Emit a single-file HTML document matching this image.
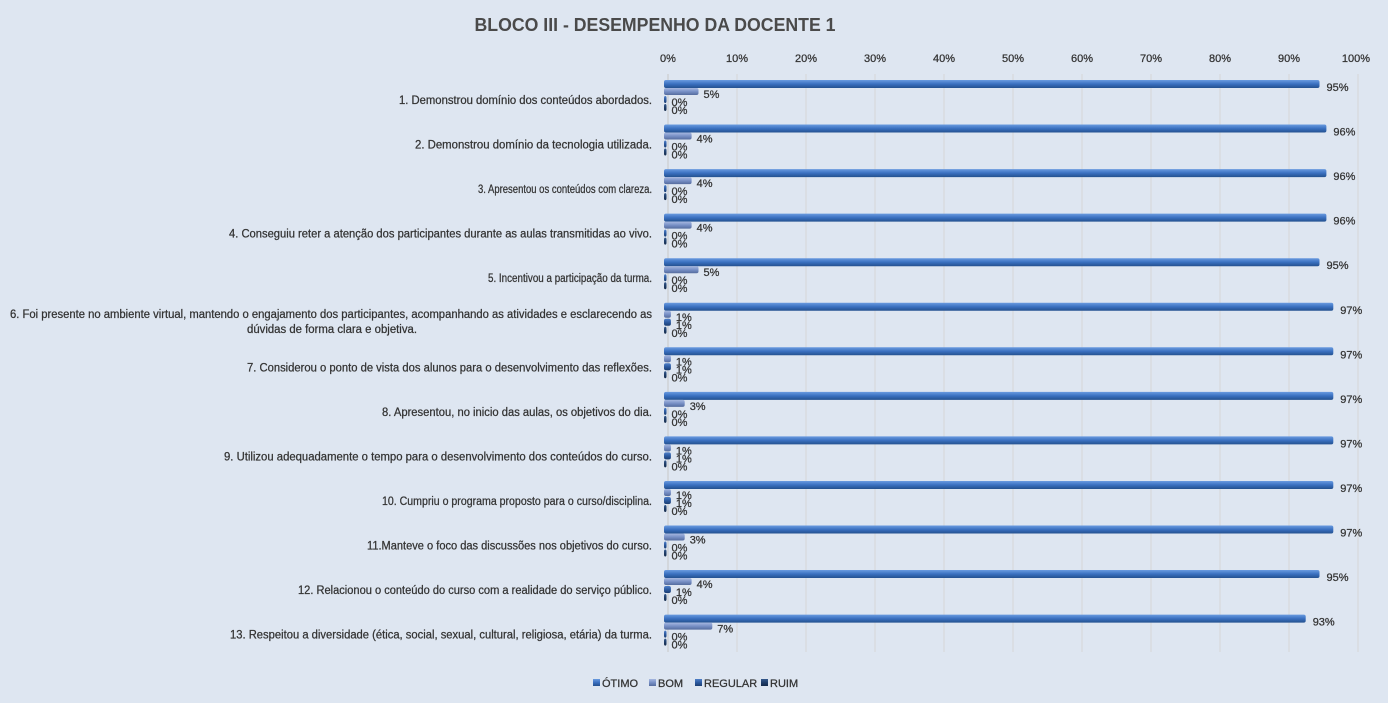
<!DOCTYPE html>
<html><head><meta charset="utf-8"><style>
html,body{margin:0;padding:0;background:#dee6f1;}
svg{display:block;font-family:"Liberation Sans Narrow","Liberation Sans",sans-serif;}
</style></head><body>
<svg width="1388" height="703" viewBox="0 0 1388 703" xmlns="http://www.w3.org/2000/svg">
<defs>
<linearGradient id="g1" x1="0" y1="0" x2="0" y2="1"><stop offset="0" stop-color="#6a9be0"/><stop offset="0.5" stop-color="#3a70c0"/><stop offset="1" stop-color="#24518f"/></linearGradient>
<linearGradient id="g2" x1="0" y1="0" x2="0" y2="1"><stop offset="0" stop-color="#a7b8e0"/><stop offset="0.5" stop-color="#7890c6"/><stop offset="1" stop-color="#556c9e"/></linearGradient>
<linearGradient id="g3" x1="0" y1="0" x2="0" y2="1"><stop offset="0" stop-color="#4f7fc8"/><stop offset="0.5" stop-color="#2c5aa0"/><stop offset="1" stop-color="#1c3e72"/></linearGradient>
<linearGradient id="g4" x1="0" y1="0" x2="0" y2="1"><stop offset="0" stop-color="#35598c"/><stop offset="0.5" stop-color="#1f3e6a"/><stop offset="1" stop-color="#142a4a"/></linearGradient>
</defs>
<rect width="1388" height="703" fill="#dee6f1"/>
<text x="655" y="31" text-anchor="middle" font-size="18" font-weight="bold" fill="#4a4a4a" font-family="Liberation Sans,sans-serif" textLength="361" lengthAdjust="spacingAndGlyphs">BLOCO III - DESEMPENHO  DA DOCENTE 1</text>
<g id="grid"></g>
<g id="bars"></g>
<g font-size="11" fill="#333" stroke="#333" stroke-width="0.25">
<rect x="593" y="679" width="7" height="7" fill="url(#g1)" stroke="none"/><text x="602" y="687">ÓTIMO</text>
<rect x="649" y="679" width="7" height="7" fill="url(#g2)" stroke="none"/><text x="658" y="687">BOM</text>
<rect x="695" y="679" width="7" height="7" fill="url(#g3)" stroke="none"/><text x="704" y="687">REGULAR</text>
<rect x="761" y="679" width="7" height="7" fill="url(#g4)" stroke="none"/><text x="770" y="687">RUIM</text>
</g>
<script>
var ns="http://www.w3.org/2000/svg";
function el(t,a,txt){var e=document.createElementNS(ns,t);for(var k in a)e.setAttribute(k,a[k]);if(txt!=null)e.textContent=txt;return e;}
var grid=document.getElementById('grid'),bars=document.getElementById('bars');
var x0=668,sc=6.9;
var T={'font-size':'11.5',fill:'#333',stroke:'#333','stroke-width':'0.25'};
function tx(a,s){var o={};for(var k in T)o[k]=T[k];for(var k in a)o[k]=a[k];return el('text',o,s);}
for(var i=0;i<=10;i++){var x=x0+i*69;
grid.appendChild(el('line',{x1:x,y1:74,x2:x,y2:652,stroke:i==0?'#c8c8c8':'#d6d6d6','stroke-width':1}));
grid.appendChild(tx({x:x+(i==10?-2:0),y:62,'text-anchor':'middle','font-size':'11'},(i*10)+'%'));}
var rows=[
["1. Demonstrou domínio dos conteúdos abordados.",399,[95,5,0,0]],
["2. Demonstrou domínio da tecnologia utilizada.",415,[96,4,0,0]],
["3. Apresentou os conteúdos com clareza.",478,[96,4,0,0]],
["4. Conseguiu reter a atenção dos participantes durante as aulas transmitidas ao vivo.",229,[96,4,0,0]],
["5. Incentivou a participação da turma.",488,[95,5,0,0]],
["6. Foi presente no ambiente virtual, mantendo o engajamento dos participantes, acompanhando as atividades e esclarecendo as",10,[97,1,1,0]],
["7. Considerou o ponto de vista dos alunos para o desenvolvimento das reflexões.",247,[97,1,1,0]],
["8. Apresentou, no inicio das aulas, os objetivos do dia.",382,[97,3,0,0]],
["9. Utilizou adequadamente o tempo para o desenvolvimento dos conteúdos do curso.",224,[97,1,1,0]],
["10. Cumpriu o programa proposto para o curso/disciplina.",382,[97,1,1,0]],
["11.Manteve o foco das discussões nos objetivos do curso.",367,[97,3,0,0]],
["12. Relacionou o conteúdo do curso com a realidade do serviço público.",298,[95,4,1,0]],
["13. Respeitou a diversidade (ética, social, sexual, cultural, religiosa, etária) da turma.",230,[93,7,0,0]]];
var fills=['url(#g1)','url(#g2)','url(#g3)','url(#g4)'];
rows.forEach(function(r,i){
var yb=84+44.55*i;
if(i==5){
bars.appendChild(tx({x:652,y:318,'text-anchor':'end',textLength:642,lengthAdjust:'spacingAndGlyphs'},r[0]));
bars.appendChild(tx({x:332,y:333,'text-anchor':'middle',textLength:170,lengthAdjust:'spacingAndGlyphs'},"dúvidas de forma clara e objetiva."));
}else{
bars.appendChild(tx({x:652,y:yb+20,'text-anchor':'end',textLength:652-r[1],lengthAdjust:'spacingAndGlyphs'},r[0]));}
for(var s=0;s<4;s++){
var v=r[2][s],y=yb+s*8-4,h=s==0?8:7,w=Math.max(2.5,v*sc);
bars.appendChild(el('rect',{x:664,y:y,width:w,height:h,rx:2,fill:fills[s]}));
bars.appendChild(tx({x:664+w+(s==0?7:5),y:y+(s==0?11:10),'font-size':'11'},v+'%'));}
});
</script>
</svg>
</body></html>
